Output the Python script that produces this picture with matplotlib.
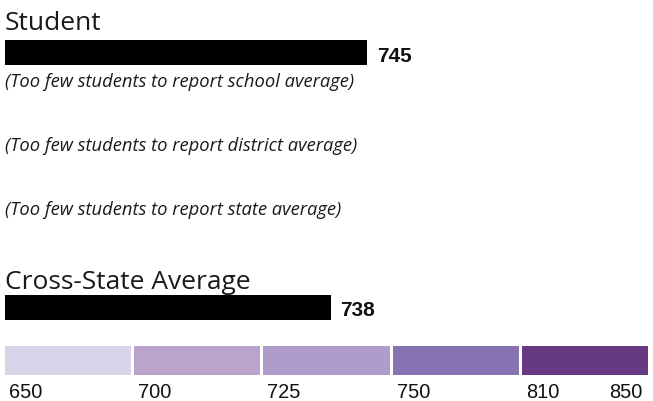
import matplotlib
matplotlib.use("Agg")
import matplotlib.pyplot as plt
import numpy as np

# data
breaks = [650, 700, 725, 750, 810, 850]
seg_colors = ["#d9d4e9", "#bba4cc", "#b09cca", "#8772b3", "#663982"]
student_score = 745
cross_state_score = 738
notes = ["(Too few students to report school average)",
         "(Too few students to report district average)",
         "(Too few students to report state average)"]
titles = ["Student", "Cross-State Average"]

W, H = 653, 402
fig = plt.figure(figsize=(W / 100, H / 100), dpi=100)

# text layer in pixel coords
tx = fig.add_axes([0, 0, 1, 1])
tx.set_xlim(0, W)
tx.set_ylim(H, 0)
tx.axis("off")

# scale layer: x in segment units (0..5) mapped piecewise from scores
seg_px = 646 / 5
ax = fig.add_axes([5 / W, 0, 646 / W, 1])
ax.set_xlim(0, len(breaks) - 1)
ax.set_ylim(H, 0)
ax.axis("off")

def to_x(v):
    return np.interp(v, breaks, np.arange(len(breaks)))

title_font = dict(family="Open Sans", fontsize=19, color="#1a1a1a")
note_font = dict(family="Open Sans", fontsize=13.2, style="italic", color="#1a1a1a")
num_font = dict(family="Liberation Sans", fontsize=15, fontweight="bold", color="#111111")

# titles
tx.text(5, 30, titles[0], va="baseline", ha="left", **title_font)
tx.text(5, 289, titles[1], va="baseline", ha="left", **title_font)

# score bars
bar_y = [53.5, 308]
scores = [student_score, cross_state_score]
ax.barh(bar_y, to_x(scores), height=25, left=0, color="black")
for y, s in zip(bar_y, scores):
    ax.annotate(str(s), (to_x(s), y), xytext=(10, -3), textcoords="offset pixels",
                va="center", ha="left", **num_font)

# notes
for y, t in zip([87, 151, 215], notes):
    tx.text(5, y, t, va="baseline", ha="left", **note_font)

# color scale
gap = 3 / seg_px
n = len(seg_colors)
ax.barh([361.5] * n, [1 - gap] * n, left=np.arange(n), height=29,
        color=seg_colors)
lab_font = dict(family="Liberation Sans", fontsize=14.4, color="#111111")
for i, b in enumerate(breaks[:-1]):
    ax.annotate(str(b), (i, 398), xytext=(4, 0), textcoords="offset pixels",
                va="baseline", ha="left", **lab_font)
ax.annotate(str(breaks[-1]), (n, 398), xytext=(-9, 0), textcoords="offset pixels",
            va="baseline", ha="right", **lab_font)

fig.savefig("out.png", dpi=100)
